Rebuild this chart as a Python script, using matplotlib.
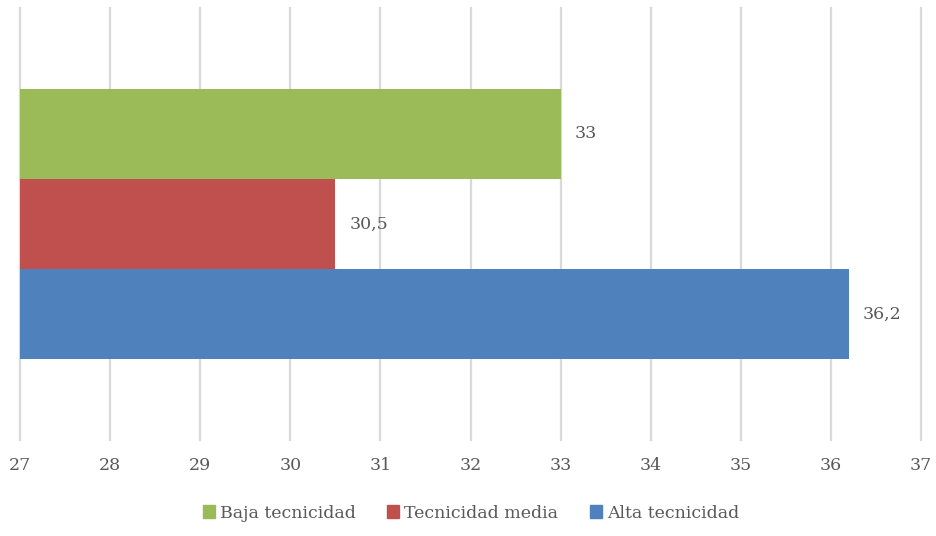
import matplotlib
matplotlib.use("Agg")
import matplotlib.pyplot as plt
from matplotlib.patches import Patch

series = ["Baja tecnicidad", "Tecnicidad media", "Alta tecnicidad"]
values = [33, 30.5, 36.2]
labels = ["33", "30,5", "36,2"]
colors = ["#9BBB59", "#C0504D", "#4F81BD"]
xticks = list(range(27, 38))

plt.rcParams['font.family'] = ['DejaVu Serif']
txt = "#595959"
fs = 12.5

fig = plt.figure(figsize=(9.36, 5.36), dpi=100)
ax = fig.add_axes([20/936, 1-440/536, 901/936, 432/536])

h = 90/432
offsets = [h, 0, -h]
for v, lab, c, off in zip(values, labels, colors, offsets):
    ax.barh(off, v - 27, left=27, height=h, color=c, zorder=3)
    ax.text(v + 14/90.1, off, lab, va='center', ha='left', fontsize=fs, color=txt, zorder=4)

ax.set_xlim(27, 37)
ax.set_ylim(-0.5, 0.5)
ax.set_xticks(xticks)
ax.set_xticklabels([str(t) for t in xticks], fontsize=fs, color=txt)
ax.set_yticks([])
ax.tick_params(axis='x', length=0, pad=12)
ax.grid(axis='x', color='#D9D9D9', linewidth=1.6, zorder=0)
for gl in ax.get_xgridlines():
    gl.set_clip_on(False)
for s in ax.spines.values():
    s.set_visible(False)

handles = [Patch(color=c) for c in colors]
fig.legend(handles, series, loc='center', bbox_to_anchor=(471/936, 1-513/536), ncol=3,
           frameon=False, prop={'size': fs}, labelcolor=txt,
           handlelength=0.7, handleheight=0.7, handletextpad=0.3, columnspacing=1.8)

fig.savefig("out.png", dpi=100)
